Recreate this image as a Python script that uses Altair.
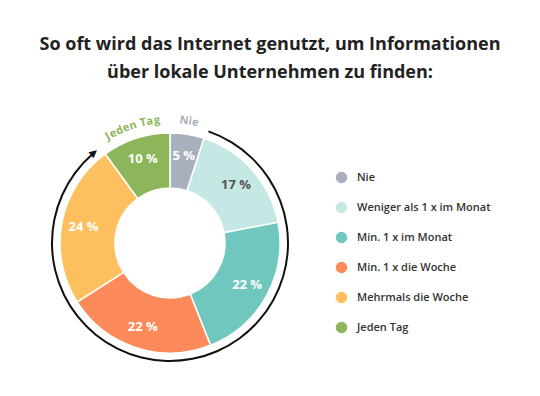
import math
import altair as alt
import pandas as pd

categories = ["Nie", "Weniger als 1 x im Monat", "Min. 1 x im Monat",
              "Min. 1 x die Woche", "Mehrmals die Woche", "Jeden Tag"]
values = [5, 17, 22, 22, 24, 10]
labels = ["5 %", "17 %", "22 %", "22 %", "24 %", "10 %"]
label_colors = ["white", "#555555", "white", "white", "white", "white"]
colors = ["#a9b0bd", "#c5e8e5", "#6fc7bd", "#fc8a5a", "#fec05e", "#8cb659"]
arc_labels = ["Nie", "Jeden Tag"]
arc_label_colors = ["#a9b0bd", "#8cb659"]
title_lines = ["So oft wird das Internet genutzt, um Informationen",
               "über lokale Unternehmen zu finden:"]

CX, CY = 162, 127
df = pd.DataFrame({"cat": categories, "value": values, "label": labels,
                   "lc": label_colors, "idx": list(range(len(values)))})

# curved labels: characters positioned along an arc centred on the segment
total = sum(values)
cum = 0
mids = {}
for c, v in zip(categories, values):
    mids[c] = (cum + v / 2) / total * 360
    cum += v
widths = {"i": 0.32, "l": 0.32, "j": 0.32, " ": 0.32, "J": 0.5, "T": 0.62,
          "N": 0.8, "e": 0.62, "d": 0.68, "n": 0.66, "a": 0.62, "g": 0.68}
R_TXT = 123
FS = 11
rows = []
for name, col in zip(arc_labels, arc_label_colors):
    mid = mids[name]
    ws = [widths.get(ch, 0.62) * FS for ch in name]
    tot = sum(ws)
    pos = -tot / 2
    for ch, w in zip(name, ws):
        ang = mid + math.degrees((pos + w / 2) / R_TXT)
        pos += w
        rows.append({"ch": ch, "th": math.radians(ang), "rot": ang % 360, "col": col})
cdf = pd.DataFrame(rows)

color_scale = alt.Scale(domain=categories, range=colors)

base = alt.Chart(df).encode(
    theta=alt.Theta("value:Q", stack=True),
    order=alt.Order("idx:Q"),
)

pie = base.mark_arc(innerRadius=55, outerRadius=110, stroke="white", strokeWidth=1.5).encode(
    x=alt.value(CX), y=alt.value(CY),
    color=alt.Color("cat:N", scale=color_scale, sort=categories,
                    legend=alt.Legend(title=None, orient="none", legendX=326, legendY=54,
                                      symbolType="circle", symbolSize=170,
                                      labelFont="Open Sans", labelFontSize=11,
                                      labelFontWeight=600, labelColor="#333333",
                                      rowPadding=9, labelOffset=8, padding=0)),
)

pct = base.mark_text(radius=88, font="Open Sans", fontSize=13, fontWeight="bold").encode(
    x=alt.value(CX), y=alt.value(CY),
    text="label:N",
    color=alt.Color("lc:N", scale=None),
)

ring = alt.Chart(pd.DataFrame({"a": [0]})).mark_arc(
    radius=119, radius2=117, theta=math.radians(19), theta2=math.radians(319), color="#111111"
).encode(x=alt.value(CX), y=alt.value(CY))

arrow_theta = 320
arrow = alt.Chart(pd.DataFrame({"a": [0]})).mark_text(
    text="▲", font="DejaVu Sans", fontSize=10, color="#111111",
    radius=118, theta=math.radians(arrow_theta), angle=(arrow_theta + 90) % 360,
    baseline="middle", align="center"
).encode(x=alt.value(CX), y=alt.value(CY))

curved = alt.Chart(cdf).mark_text(font="Open Sans", fontSize=FS, fontWeight="bold",
                                  baseline="middle", align="center").encode(
    x=alt.value(CX), y=alt.value(CY),
    theta=alt.Theta("th:Q", scale=None),
    radius=alt.value(R_TXT),
    angle=alt.Angle("rot:Q", scale=None),
    text="ch:N",
    color=alt.Color("col:N", scale=None),
)

chart = alt.layer(ring, pie, pct, curved, arrow).properties(
    width=524, height=272,
    autosize=alt.AutoSizeParams(type="none"),
    padding={"left": 0, "top": 108, "right": 0, "bottom": 0},
    title=alt.TitleParams(text=title_lines, font="Open Sans", fontSize=18, fontWeight="bold",
                          color="#222222", anchor="middle", lineHeight=28, offset=14,
                          baseline="bottom"),
).configure_view(stroke=None)

chart.save("out.html", embed_options={"renderer": "svg", "actions": False})
